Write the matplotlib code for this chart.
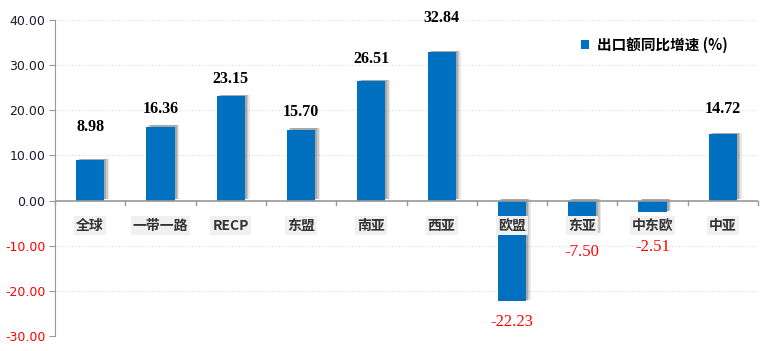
import matplotlib
matplotlib.use("Agg")
import matplotlib.pyplot as plt
import matplotlib.patheffects as pe
from matplotlib.patches import Patch

plt.rcParams['font.family'] = ['Noto Sans CJK SC', 'DejaVu Sans']

categories = ['全球', '一带一路', 'RECP', '东盟', '南亚', '西亚', '欧盟', '东亚', '中东欧', '中亚']
values = [8.98, 16.36, 23.15, 15.70, 26.51, 32.84, -22.23, -7.50, -2.51, 14.72]
yticks = [-30, -20, -10, 0, 10, 20, 30, 40]
legend_label = '出口额同比增速 (%)'
# label offsets in points (distance from bar end)
label_offsets = [24, 13, 12, 13, 16, 25, 15, 13, 25, 18]

bar_color = '#0070C0'

fig = plt.figure(figsize=(7.7, 3.51), dpi=100)
ax = fig.add_axes([55/770, 15/351, 703/770, 316/351])

x = list(range(len(categories)))
bars = ax.bar(x, values, width=0.4, color=bar_color, zorder=3)
shadow = [pe.SimplePatchShadow(offset=(o, 1), shadow_rgbFace='#444444', alpha=a)
          for o, a in [(3.5, 0.12), (2.5, 0.18), (1.5, 0.25)]]
for b in bars:
    b.set_path_effects(shadow + [pe.Normal()])

ax.set_xlim(-0.5, len(categories) - 0.5)
ax.set_ylim(-30, 40)
ax.set_yticks(yticks)
ax.set_yticklabels([f'{t:.2f}' for t in yticks], fontsize=9, family='DejaVu Sans')
for lbl, t in zip(ax.get_yticklabels(), yticks):
    lbl.set_color('#ff0000' if t < 0 else '#1a1a2e')

ax.grid(axis='y', linestyle=(0, (1, 2)), color='#d8d8d8', linewidth=0.8, zorder=0)
ax.set_xticks([])
for s in ['top', 'right', 'bottom']:
    ax.spines[s].set_visible(False)
ax.spines['left'].set_color('#999999')
ax.tick_params(axis='y', length=4, color='#999999', pad=3)

# zero axis line with category-boundary ticks
ax.axhline(0, color='#999999', linewidth=1.2, zorder=4)
for i in range(len(categories) + 1):
    ax.plot([i - 0.5, i - 0.5], [0, -0.9], color='#999999', linewidth=1.0, zorder=4, clip_on=False)

# category labels
for i, c in enumerate(categories):
    ax.annotate(c, (i, 0), xytext=(0, -18), textcoords='offset points', ha='center', va='center',
                fontsize=10, fontweight='bold', color='#333333',
                bbox=dict(facecolor='#f0f0f0', edgecolor='none', pad=1.5), zorder=5)

# value labels
for i, v in enumerate(values):
    if v >= 0:
        ax.annotate(f'{v:.2f}', (i, v), xytext=(0, label_offsets[i]), textcoords='offset points',
                    ha='center', va='center', fontsize=11.5, fontweight='bold', color='black',
                    family='Liberation Serif', zorder=6)
    else:
        ax.annotate(f'{v:.2f}', (i, v), xytext=(0, -label_offsets[i]), textcoords='offset points',
                    ha='center', va='center', fontsize=12, color='#ff0000',
                    family='Liberation Serif', zorder=6)

leg = ax.legend(handles=[Patch(facecolor=bar_color, label=legend_label)], loc='upper right',
                bbox_to_anchor=(0.975, 0.99), frameon=False, handlelength=0.6, handleheight=0.6,
                handletextpad=0.5, prop=dict(family='Noto Sans CJK SC', weight='bold', size=10.5))

fig.savefig('out.png', dpi=100)
